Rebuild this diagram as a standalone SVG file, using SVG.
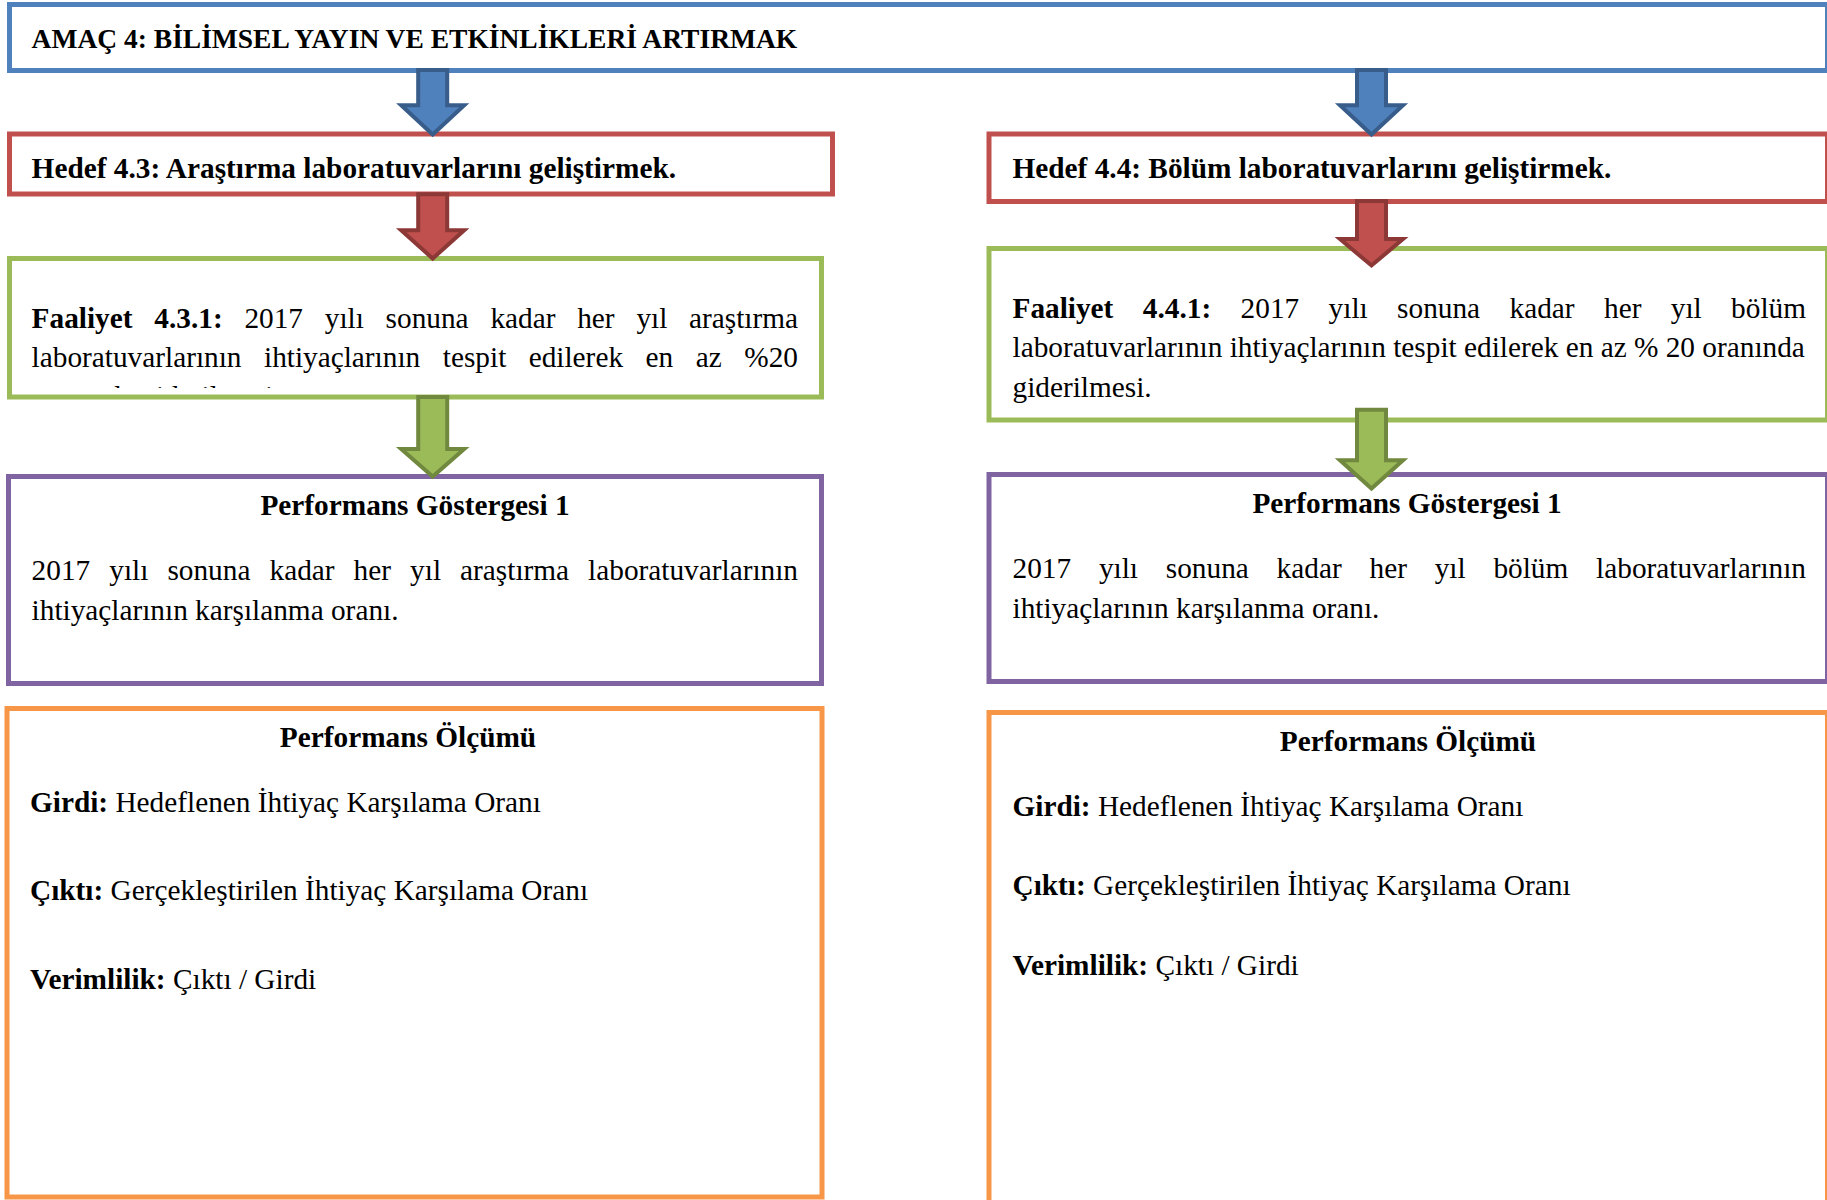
<svg xmlns="http://www.w3.org/2000/svg" width="1827" height="1200" viewBox="0 0 1827 1200">
<style>
text{font-family:"Liberation Serif","Times New Roman",serif;font-size:29.3px;fill:#000}
.b{font-weight:bold}
.ttl{font-size:27.5px;font-weight:bold}
.mid{text-anchor:middle}
.box{fill:#fff;stroke-width:5}
.blue{stroke:#4F81BD}
.red{stroke:#C0504D}
.green{stroke:#9BBB59}
.purple{stroke:#8064A2}
.orange{stroke:#F79646}
.arr{stroke-width:4;stroke-linejoin:miter}
.a-blue{fill:#4F81BD;stroke:#385D8A}
.a-red{fill:#C0504D;stroke:#8C3836}
.a-green{fill:#9BBB59;stroke:#71893F}
</style>
<defs>
<clipPath id="clipF431"><rect x="12" y="261" width="807" height="127"/></clipPath>
</defs>
<rect width="1827" height="1200" fill="#fff"/>

<g id="amac4">
<rect class="box blue" x="9.5" y="4.5" width="1818" height="66"/>
<text class="ttl" x="31.6" y="48">AMAÇ 4: BİLİMSEL YAYIN VE ETKİNLİKLERİ ARTIRMAK</text>
</g>

<g id="hedef43">
<rect class="box red" x="9.5" y="134" width="823" height="60"/>
<text class="b" x="31.6" y="178">Hedef 4.3: Araştırma laboratuvarlarını geliştirmek.</text>
</g>

<g id="hedef44">
<rect class="box red" x="989" y="134" width="838.5" height="67.5"/>
<text class="b" x="1012.5" y="178">Hedef 4.4: Bölüm laboratuvarlarını geliştirmek.</text>
</g>

<g id="faaliyet431">
<rect class="box green" x="9.5" y="258.5" width="812" height="138.5"/>
<text y="328"><tspan class="b" x="31.6">Faaliyet </tspan><tspan class="b" x="154.3">4.3.1: </tspan><tspan x="244.4">2017 </tspan><tspan x="324.8">yılı </tspan><tspan x="385.6">sonuna </tspan><tspan x="490.4">kadar </tspan><tspan x="577.2">her </tspan><tspan x="636.4">yıl </tspan><tspan x="689">araştırma</tspan></text>
<text y="367"><tspan x="31.6">laboratuvarlarının </tspan><tspan x="264">ihtiyaçlarının </tspan><tspan x="442.8">tespit </tspan><tspan x="528.7">edilerek </tspan><tspan x="645.6">en </tspan><tspan x="695.8">az </tspan><tspan x="744.3">%20</tspan></text>
<text x="31.6" y="406" clip-path="url(#clipF431)">oranında giderilmesi.</text>
</g>

<g id="faaliyet441">
<rect class="box green" x="989" y="248.5" width="838.5" height="171.5"/>
<text y="318"><tspan class="b" x="1012.5">Faaliyet </tspan><tspan class="b" x="1142.8">4.4.1: </tspan><tspan x="1240.6">2017 </tspan><tspan x="1328.6">yılı </tspan><tspan x="1397.1">sonuna </tspan><tspan x="1509.5">kadar </tspan><tspan x="1604">her </tspan><tspan x="1670.8">yıl </tspan><tspan x="1731.1">bölüm</tspan></text>
<text x="1012.5" y="357">laboratuvarlarının ihtiyaçlarının tespit edilerek en az % 20 oranında</text>
<text x="1012.5" y="397">giderilmesi.</text>
</g>

<g id="gosterge-sol">
<rect class="box purple" x="8.5" y="476.5" width="813" height="207"/>
<text class="b mid" x="415" y="515">Performans Göstergesi 1</text>
<text y="580"><tspan x="31.6">2017 </tspan><tspan x="109.3">yılı </tspan><tspan x="167.4">sonuna </tspan><tspan x="269.5">kadar </tspan><tspan x="353.6">her </tspan><tspan x="410.1">yıl </tspan><tspan x="460.1">araştırma </tspan><tspan x="588.1">laboratuvarlarının</tspan></text>
<text x="31.6" y="620">ihtiyaçlarının karşılanma oranı.</text>
</g>

<g id="gosterge-sag">
<rect class="box purple" x="989" y="474.5" width="838.5" height="207"/>
<text class="b mid" x="1407" y="513">Performans Göstergesi 1</text>
<text y="578"><tspan x="1012.5">2017 </tspan><tspan x="1098.9">yılı </tspan><tspan x="1165.8">sonuna </tspan><tspan x="1276.6">kadar </tspan><tspan x="1369.5">her </tspan><tspan x="1434.7">yıl </tspan><tspan x="1493.4">bölüm </tspan><tspan x="1596.1">laboratuvarlarının</tspan></text>
<text x="1012.5" y="618">ihtiyaçlarının karşılanma oranı.</text>
</g>

<g id="olcum-sol">
<rect class="box orange" x="7" y="708.5" width="815" height="488.5"/>
<text class="b mid" x="408" y="747">Performans Ölçümü</text>
<text x="30" y="812"><tspan class="b">Girdi:</tspan> Hedeflenen İhtiyaç Karşılama Oranı</text>
<text x="30" y="900"><tspan class="b">Çıktı:</tspan> Gerçekleştirilen İhtiyaç Karşılama Oranı</text>
<text x="30" y="989"><tspan class="b">Verimlilik:</tspan> Çıktı / Girdi</text>
</g>

<g id="olcum-sag">
<rect class="box orange" x="989" y="712.5" width="838.5" height="500"/>
<text class="b mid" x="1408" y="751">Performans Ölçümü</text>
<text x="1012.5" y="816"><tspan class="b">Girdi:</tspan> Hedeflenen İhtiyaç Karşılama Oranı</text>
<text x="1012.5" y="895"><tspan class="b">Çıktı:</tspan> Gerçekleştirilen İhtiyaç Karşılama Oranı</text>
<text x="1012.5" y="975"><tspan class="b">Verimlilik:</tspan> Çıktı / Girdi</text>
</g>

<g id="connectors">
<polygon class="arr a-blue" points="418.2,70 447.2,70 447.2,105.3 464.2,105.3 432.7,134.5 401.2,105.3 418.2,105.3"/>
<polygon class="arr a-blue" points="1357,70 1386,70 1386,105.3 1403,105.3 1371.5,134.5 1340,105.3 1357,105.3"/>
<polygon class="arr a-red" points="418.2,194.3 447.2,194.3 447.2,230.3 464.2,230.3 432.7,258.5 401.2,230.3 418.2,230.3"/>
<polygon class="arr a-red" points="1357,201 1386,201 1386,239 1403,239 1371.5,265.5 1340,239 1357,239"/>
<polygon class="arr a-green" points="418.2,397 447.2,397 447.2,449 464.2,449 432.7,476.5 401.2,449 418.2,449"/>
<polygon class="arr a-green" points="1357,409.7 1386,409.7 1386,460.3 1403,460.3 1371.5,488.5 1340,460.3 1357,460.3"/>
</g>
</svg>
